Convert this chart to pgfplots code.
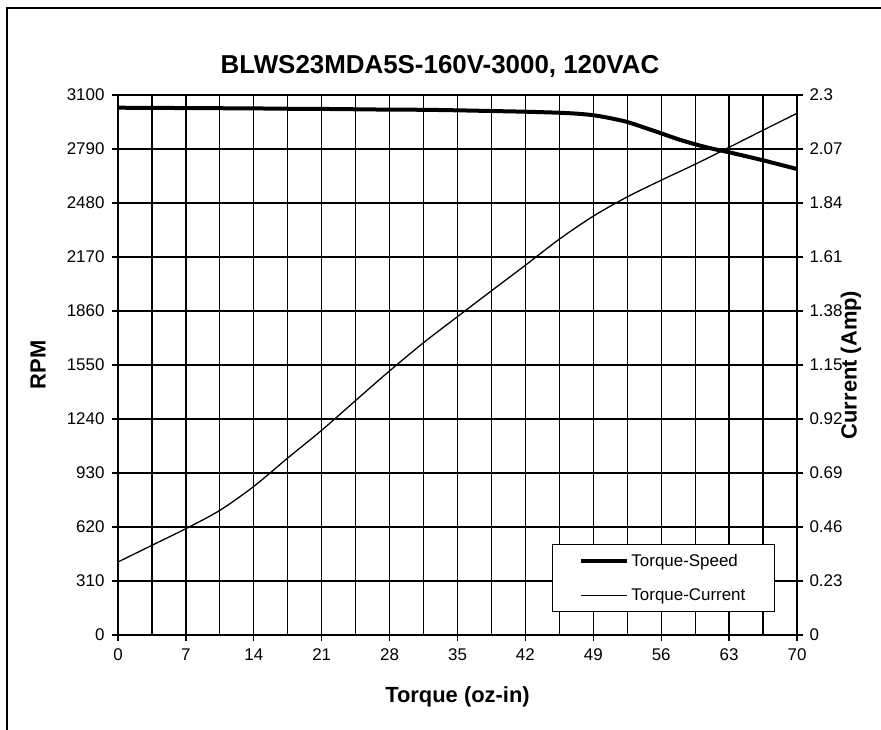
\documentclass[border=0pt]{standalone}
\usepackage{pgfplots}
\pgfplotsset{compat=1.18}
\usepackage{fontspec}
\setmainfont{Liberation Sans}

\pgfplotstableread{
x y
0 3027
3.5 3026
7 3025
10.5 3024
14 3023
17.5 3021
21 3020
24.5 3018
28 3016
31.5 3015
35 3012
38.5 3008
42 3004
45.5 2998
47.25 2993
49 2984
50.75 2967
52.5 2945
54.25 2913
56 2880
57.75 2846
59.5 2817
61.25 2792
63 2771
66.5 2725
70 2675
}\speed

\pgfplotstableread{
x y
0 0.311
3.5 0.382
7 0.453
10.5 0.531
14 0.633
17.5 0.754
21 0.872
24.5 0.999
28 1.125
31.5 1.245
35 1.356
38.5 1.466
42 1.575
45.5 1.686
49 1.784
52.5 1.866
56 1.937
59.5 2.005
63 2.077
66.5 2.150
70 2.222
}\current

\begin{document}
\begin{tikzpicture}
\path[use as bounding box] (0bp,0bp) rectangle (881bp,730bp);
\draw[line width=1.5bp] (7bp,0bp) -- (7bp,722bp) -- (881bp,722bp);
\begin{axis}[
  at={(118bp,95bp)}, anchor=south west,
  scale only axis, width=679bp, height=540bp,
  xmin=0, xmax=70, ymin=0, ymax=3100,
  xtick={0,7,14,21,28,35,42,49,56,63,70},
  minor xtick={3.5,10.5,17.5,24.5,31.5,38.5,45.5,52.5,59.5,66.5},
  ytick={0,310,620,930,1240,1550,1860,2170,2480,2790,3100},
  xtick pos=bottom, ytick pos=left, tick align=outside,
  major tick length=6bp, minor tick length=0pt,
  grid=both,
  major grid style={black, line width=1.25bp},
  minor grid style={black, line width=1.25bp},
  axis line style={line width=2bp},
  tick style={black, line width=1.3bp},
  ticklabel style={font=\fontsize{17}{20}\selectfont},
  xticklabel style={yshift=-4bp},
  yticklabel style={xshift=-4bp},
  /pgf/number format/assume math mode=true,
  /pgf/number format/1000 sep={},
]
\addplot[black, line width=4bp, smooth] table[x=x,y=y] {\speed};
\end{axis}
\begin{axis}[
  at={(118bp,95bp)}, anchor=south west,
  scale only axis, width=679bp, height=540bp,
  xmin=0, xmax=70, ymin=0, ymax=2.3,
  axis x line=none, axis y line*=right,
  ytick={0,0.23,0.46,0.69,0.92,1.15,1.38,1.61,1.84,2.07,2.3},
  yticklabels={0,0.23,0.46,0.69,0.92,1.15,1.38,1.61,1.84,2.07,2.3},
  tick align=outside, major tick length=6bp,
  axis line style={line width=2bp},
  tick style={black, line width=1.3bp},
  ticklabel style={font=\fontsize{17}{20}\selectfont},
  yticklabel style={xshift=3bp},
  legend image code/.code={\draw[#1] (0bp,0bp) -- (46bp,0bp);},
  legend style={at={(0.9676,0.0426)}, anchor=south east, draw=black,
    line width=1.3bp, font=\fontsize{17}{20}\selectfont,
    inner xsep=27bp, inner ysep=7.5bp, row sep=17bp},
  legend cell align=left,
]
\addlegendimage{black, line width=4bp}
\addlegendentry{Torque-Speed}
\addplot[black, line width=1.3bp, smooth] table[x=x,y=y] {\current};
\addlegendentry{Torque-Current}
\end{axis}
\node[font=\bfseries\fontsize{26}{30}\selectfont] at (440bp,664bp) {BLWS23MDA5S-160V-3000, 120VAC};
\node[font=\bfseries\fontsize{22}{26}\selectfont] at (457.5bp,33bp) {Torque (oz-in)};
\node[font=\bfseries\fontsize{22}{26}\selectfont, rotate=90] at (38bp,365bp) {RPM};
\node[font=\bfseries\fontsize{22}{26}\selectfont, rotate=90] at (851bp,365bp) {Current (Amp)};
\end{tikzpicture}
\end{document}
